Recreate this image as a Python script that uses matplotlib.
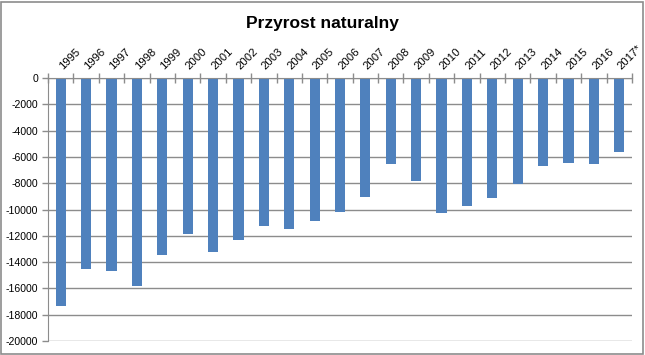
import matplotlib
matplotlib.use("Agg")
import matplotlib.pyplot as plt
from matplotlib.patches import Rectangle
from matplotlib.transforms import ScaledTranslation
import numpy as np

years = ["1995", "1996", "1997", "1998", "1999", "2000", "2001", "2002", "2003",
         "2004", "2005", "2006", "2007", "2008", "2009", "2010", "2011", "2012",
         "2013", "2014", "2015", "2016", "2017*"]
values = [-17340, -14500, -14700, -15790, -13450, -11900, -13260, -12320, -11250,
          -11460, -10900, -10160, -9030, -6570, -7810, -10240, -9710, -9100,
          -8060, -6690, -6440, -6570, -5600]
yticks = [0, -2000, -4000, -6000, -8000, -10000, -12000, -14000, -16000, -18000, -20000]

plt.rcParams['font.family'] = ['Liberation Sans', 'DejaVu Sans']

fig = plt.figure(figsize=(6.45, 3.55), dpi=100)
ax = fig.add_axes([48/645, 14/355, (632-48)/645, (341-78)/355])

x = np.arange(len(years))
ax.bar(x, values, width=0.4, color='#4F81BD', zorder=3)

ax.set_xlim(-0.5, len(years) - 0.5)
ax.set_ylim(-20000, 0)
ax.set_yticks(yticks)
ax.set_yticklabels([str(v) for v in yticks], fontsize=7.6)
ax.yaxis.grid(True, color='#8c8c8c', linewidth=1.0, zorder=0)

ax.xaxis.tick_top()
ax.set_xticks(x)
ax.set_xticklabels([])
ax.set_xticks(np.arange(-0.5, len(years), 1.0), minor=True)
ax.tick_params(axis='x', which='major', length=0)
ax.tick_params(axis='x', which='minor', direction='inout', length=7, color='#8c8c8c', width=1)
ax.tick_params(axis='y', which='major', direction='out', length=4, color='#8c8c8c', width=1, pad=3)

offset = ScaledTranslation(0, 8/100, fig.dpi_scale_trans)
for xi, lab in zip(x, years):
    ax.text(xi + 0.08, 0, lab, transform=ax.transData + offset, rotation=45, fontsize=8.1,
            ha='left', va='baseline', rotation_mode='anchor', clip_on=False)

for side in ['right', 'bottom']:
    ax.spines[side].set_visible(False)
ax.spines['top'].set_color('#8c8c8c')
ax.spines['left'].set_color('#8c8c8c')
ax.spines['top'].set_zorder(4)

fig.text(0.5, 0.935, "Przyrost naturalny", ha='center', va='center',
         fontsize=12.5, fontweight='bold')

fig.patches.append(Rectangle((1/645, 1/355), 642/645, 352/355, transform=fig.transFigure,
                             fill=False, edgecolor='#8c8c8c', linewidth=1.2))

fig.savefig("out.png", dpi=100)
